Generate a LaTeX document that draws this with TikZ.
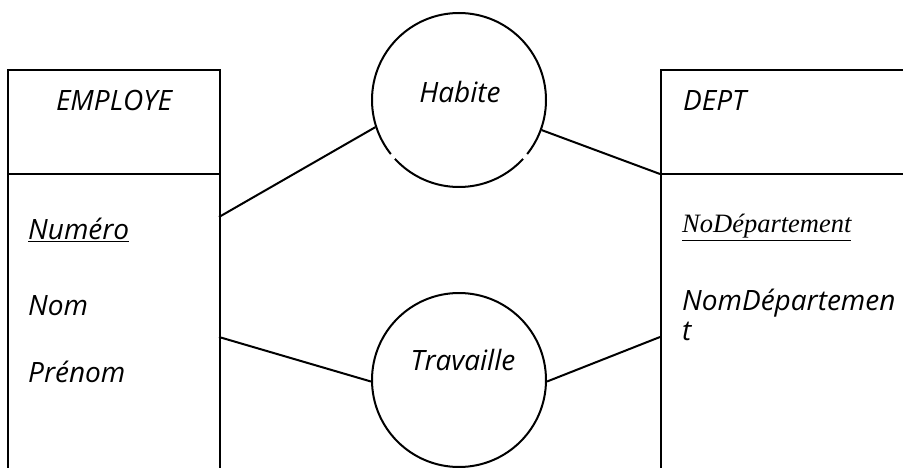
\documentclass[tikz,border=0pt]{standalone}
\usepackage{fontspec}
\setmainfont{Open Sans}
\newfontfamily\timesfont{Liberation Serif}
\begin{document}
\begin{tikzpicture}[x=1pt,y=-1pt,
  ln/.style={line width=2pt},
  entbox/.style={draw,ln,rectangle,minimum width=212pt,minimum height=420pt,anchor=north west,inner sep=0pt},
  rel/.style={draw,ln,circle,minimum size=174pt,inner sep=0pt},
  lbl/.style={inner sep=0pt,font=\fontsize{28}{30}\selectfont\itshape},
  tlbl/.style={inner sep=0pt,font=\fontsize{26.5}{30}\selectfont\timesfont\itshape}]
\useasboundingbox (0,0) rectangle (903,468);
\clip (0,0) rectangle (903,468);
% entity boxes
\node[entbox] (emp) at (7,69) {};
\node[entbox,minimum width=300pt] (dept) at (660,69) {};
\draw[ln] (7,174) -- (219,174);
\draw[ln] (660,174) -- (903,174);
% relationship circles
\node[rel] (hab) at (459,100) {};
\node[rel] (trav) at (459,380) {};
% small breaks in the Habite circle
\draw[white,line width=3.5pt] (hab.center) ++(141.5:87) arc[start angle=141.5,end angle=137.5,radius=87];
\draw[white,line width=3.5pt] (hab.center) ++(42.5:87) arc[start angle=42.5,end angle=38.5,radius=87];
% texts
\node[lbl,anchor=base] (tEmp) at (114,111) {EMPLOYE};
\node[lbl,anchor=base west] (tDept) at (683,111) {DEPT};
\node[lbl,anchor=base] (tHab) at (460,103) {Habite};
\node[lbl,anchor=base] (tTrav) at (463,370) {Travaille};
\node[lbl,anchor=base west] (tNum) at (28,240) {\underline{Numéro}};
\node[lbl,anchor=base west] (tNom) at (28,315) {Nom};
\node[lbl,anchor=base west] (tPre) at (28,382) {Prénom};
\node[tlbl,anchor=base west] (tNoD) at (682,233) {\underline{NoDépartement}};
\node[lbl,anchor=base west] (tNomD) at (682,310) {\vtop{\hbox{NomDépartemen}\hbox{t}}};
% connectors
\coordinate (e1) at (219,217);
\coordinate (e2) at (219,337);
\coordinate (d1) at (660,174);
\coordinate (d2) at (660,337);
\draw[ln] (e1) -- (hab.198.6);
\draw[ln] (hab.340.8) -- (d1);
\draw[ln] (e2) -- (trav.181);
\draw[ln] (trav.359) -- (d2);
\end{tikzpicture}
\end{document}
